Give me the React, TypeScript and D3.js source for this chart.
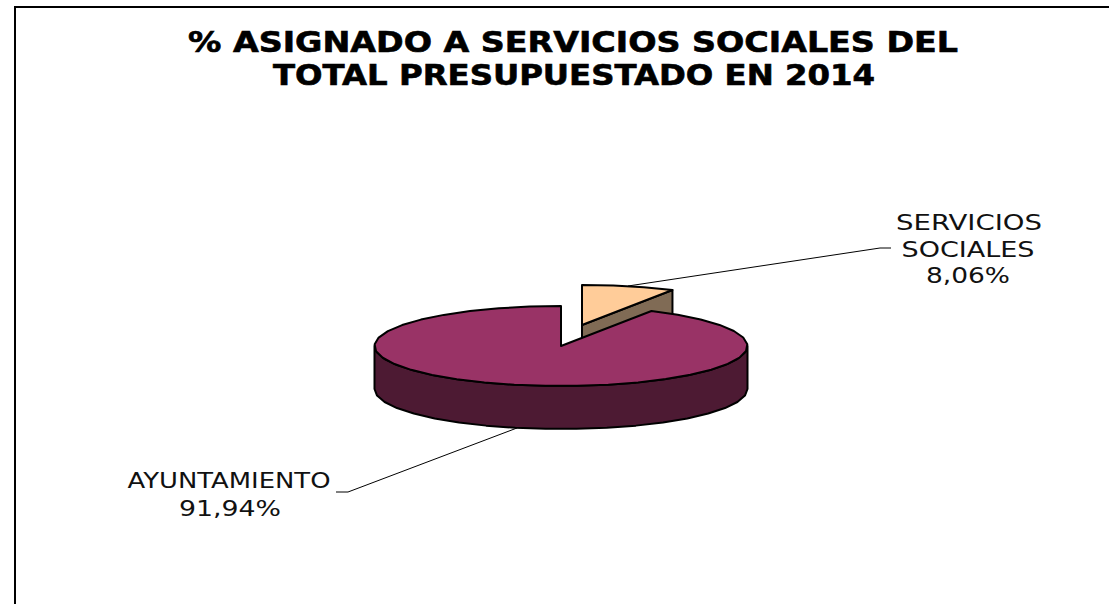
import React from "react";
import * as d3 from "d3";

const categories = ["AYUNTAMIENTO", "SERVICIOS SOCIALES"];
const values = [91.94, 8.06];
const valueLabels = ["91,94%", "8,06%"];
const titleLines = ["% ASIGNADO A SERVICIOS SOCIALES DEL", "TOTAL PRESUPUESTADO EN 2014"];
const topColors = ["#993366", "#FFCC99"];
const sideColors = ["#4D1A33", "#806B55"];

const W = 1109, H = 604;
const RX = 186.5, RY = 40, DEPTH = 43;
const STEP = 0.17;
const FONT = "'DejaVu Sans', Verdana, sans-serif";

export default function App() {
  const arcs = d3.pie<number>().sort(null).startAngle(0).endAngle(2 * Math.PI)([values[1], values[0]]);
  const small = arcs[0], big = arcs[1];

  const px = (cx: number, a: number) => cx + RX * Math.sin(a);
  const py = (cy: number, a: number) => cy - RY * Math.cos(a);
  const line = d3.line<[number, number]>();
  const samples = (s: number, e: number) => {
    const n = Math.ceil((e - s) / STEP);
    return d3.range(n + 1).map((i) => s + ((e - s) * i) / n);
  };
  const top = (cx: number, cy: number, s: number, e: number) =>
    (line([[cx, cy], ...samples(s, e).map((a) => [px(cx, a), py(cy, a)] as [number, number])]) as string) + "Z";

  const mx = 561, my = 346;
  const bigTop = top(mx, my, big.startAngle, big.endAngle);
  const fr = samples(Math.PI / 2, (3 * Math.PI) / 2);
  const bigSide = (line([
    ...fr.map((a) => [px(mx, a), py(my, a)] as [number, number]),
    ...fr.slice().reverse().map((a) => [px(mx, a), py(my, a) + DEPTH] as [number, number]),
  ]) as string) + "Z";

  const sx = 582, sy = 325;
  const smallTop = top(sx, sy, small.startAngle, small.endAngle);
  const e = small.endAngle;
  const smallSide = (line([
    [sx, sy],
    [px(sx, e), py(sy, e)],
    [px(sx, e), py(sy, e) + DEPTH],
    [sx, sy + DEPTH],
  ]) as string) + "Z";

  const fit = (t: string, x: number, y: number, len: number) => (
    <text
      key={t}
      x={x}
      y={y}
      textAnchor="middle"
      textLength={len}
      lengthAdjust="spacingAndGlyphs"
      style={{ fontFamily: FONT, fontSize: 22, fill: "#111" }}
    >
      {t}
    </text>
  );
  const [socA, socB] = categories[1].split(" ");
  const titleStyle = { fontFamily: FONT, fontSize: 27.5, fontWeight: 700, stroke: "#000", strokeWidth: 0.6 };

  return (
    <svg width={W} height={H} style={{ position: "absolute", left: 0, top: 0, background: "#fff" }}>
      <path d={line([[15, H], [15, 7], [W, 7]]) as string} fill="none" stroke="#000" strokeWidth={2} />
      <text x={573} y={52} textAnchor="middle" textLength={770} lengthAdjust="spacingAndGlyphs" style={titleStyle}>{titleLines[0]}</text>
      <text x={574} y={85} textAnchor="middle" textLength={602} lengthAdjust="spacingAndGlyphs" style={titleStyle}>{titleLines[1]}</text>
      <g stroke="#000" strokeWidth={2} strokeLinejoin="round">
        <path d={smallSide} fill={sideColors[1]} />
        <path d={smallTop} fill={topColors[1]} />
        <path d={bigSide} fill={sideColors[0]} />
        <path d={bigTop} fill={topColors[0]} />
      </g>
      <g fill="none" stroke="#000" strokeWidth={1}>
        <path d={line([[628, 286], [880, 248], [891, 248]]) as string} />
        <path d={line([[517, 428], [348, 492], [336, 492]]) as string} />
      </g>
      {fit(socA, 969, 230, 146)}
      {fit(socB, 968, 257, 133)}
      {fit(valueLabels[1], 968, 283, 84)}
      {fit(categories[0], 229, 488, 203)}
      {fit(valueLabels[0], 230, 516, 102)}
    </svg>
  );
}
